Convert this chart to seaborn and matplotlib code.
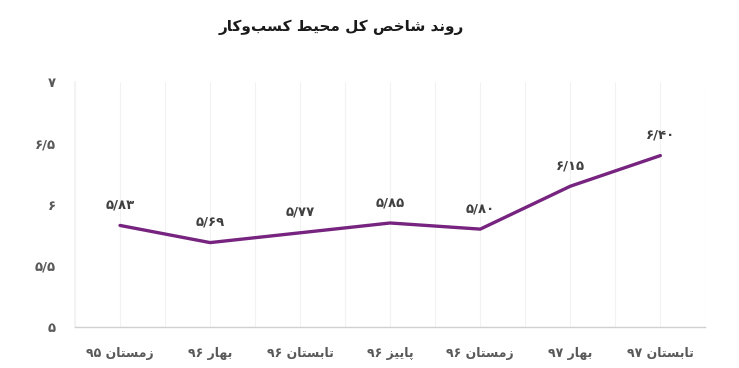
import matplotlib
matplotlib.use("Agg")
import matplotlib.pyplot as plt
import seaborn as sns
import pandas as pd
import numpy as np

# ---- data ----
title = "روند شاخص کل محیط کسب\u200cوکار"
categories = ["زمستان ۹۵", "بهار ۹۶", "تابستان ۹۶", "پاییز ۹۶", "زمستان ۹۶", "بهار ۹۷", "تابستان ۹۷"]
values = [5.83, 5.69, 5.77, 5.85, 5.80, 6.15, 6.40]
value_labels = ["۵/۸۳", "۵/۶۹", "۵/۷۷", "۵/۸۵", "۵/۸۰", "۶/۱۵", "۶/۴۰"]
y_ticks = [5, 5.5, 6, 6.5, 7]
y_tick_labels = ["۵", "۵/۵", "۶", "۶/۵", "۷"]

# ---- minimal Persian shaping (matplotlib has no complex text layout) ----
FORMS = {
    "ا": ("\uFE8D", "\uFE8E", None, None),
    "ب": ("\uFE8F", "\uFE90", "\uFE91", "\uFE92"),
    "پ": ("\uFB56", "\uFB57", "\uFB58", "\uFB59"),
    "ت": ("\uFE95", "\uFE96", "\uFE97", "\uFE98"),
    "ح": ("\uFEA1", "\uFEA2", "\uFEA3", "\uFEA4"),
    "خ": ("\uFEA5", "\uFEA6", "\uFEA7", "\uFEA8"),
    "د": ("\uFEA9", "\uFEAA", None, None),
    "ر": ("\uFEAD", "\uFEAE", None, None),
    "ز": ("\uFEAF", "\uFEB0", None, None),
    "س": ("\uFEB1", "\uFEB2", "\uFEB3", "\uFEB4"),
    "ش": ("\uFEB5", "\uFEB6", "\uFEB7", "\uFEB8"),
    "ص": ("\uFEB9", "\uFEBA", "\uFEBB", "\uFEBC"),
    "ط": ("\uFEC1", "\uFEC2", "\uFEC3", "\uFEC4"),
    "ک": ("\uFB8E", "\uFB8F", "\uFB90", "\uFB91"),
    "ل": ("\uFEDD", "\uFEDE", "\uFEDF", "\uFEE0"),
    "م": ("\uFEE1", "\uFEE2", "\uFEE3", "\uFEE4"),
    "ن": ("\uFEE5", "\uFEE6", "\uFEE7", "\uFEE8"),
    "ه": ("\uFEE9", "\uFEEA", "\uFEEB", "\uFEEC"),
    "و": ("\uFEED", "\uFEEE", None, None),
    "ی": ("\uFBFC", "\uFBFD", "\uFBFE", "\uFBFF"),
}


def dual(c):
    return c in FORMS and FORMS[c][2] is not None


def joins(c):
    return c in FORMS


def shape(text):
    out = []
    n = len(text)
    for i, c in enumerate(text):
        if c == "\u200c":
            continue
        if c not in FORMS:
            out.append(c)
            continue
        prev = text[i - 1] if i > 0 else ""
        nxt = text[i + 1] if i + 1 < n else ""
        cp = dual(prev)
        cn = dual(c) and joins(nxt)
        iso, fin, ini, med = FORMS[c]
        if cp and cn:
            out.append(med)
        elif cp:
            out.append(fin)
        elif cn:
            out.append(ini)
        else:
            out.append(iso)
    # visual reorder: reverse, but keep digit runs left-to-right
    s = "".join(out)
    runs, cur, isdig = [], "", None
    for ch in s:
        d = ch.isdigit() or ch in "/."
        if isdig is None or d == isdig:
            cur += ch
        else:
            runs.append((cur, isdig))
            cur = ch
        isdig = d
    if cur:
        runs.append((cur, isdig))
    res = []
    for r, d in reversed(runs):
        res.append(r if d else r[::-1])
    return "".join(res)


# ---- plot ----
sns.set_theme(style="white")
plt.rcParams["font.family"] = ["DejaVu Sans"]

df = pd.DataFrame({"category": categories, "value": values})

fig = plt.figure(figsize=(7.39, 3.68), dpi=100)
ax = fig.add_axes([0.1015, 0.111, 0.853, 0.666])

line_color = "#76247F"
sns.lineplot(data=df, x="category", y="value", ax=ax, color=line_color,
             linewidth=2.4, sort=False)

ax.set_xlim(-0.5, len(categories) - 0.5)
ax.set_ylim(5, 7)
ax.set_yticks(y_ticks)
ax.set_yticklabels(y_tick_labels, fontweight="bold")
ax.set_xticks(range(len(categories)))
ax.set_xticklabels([shape(c) for c in categories], fontweight="bold")
ax.set_xticks(np.arange(-0.5, len(categories), 1.0), minor=True)

ax.grid(axis="x", which="both", color="#F2F2F2", linewidth=0.8)
ax.grid(axis="y", visible=False)
ax.set_axisbelow(True)

ax.set_xlabel("")
ax.set_ylabel("")
ax.tick_params(axis="x", which="both", length=0, pad=14, labelsize=9,
               labelcolor="#595959")
ax.tick_params(axis="y", length=0, pad=14, labelsize=9.5, labelcolor="#595959")

for side in ["top", "right"]:
    ax.spines[side].set_visible(False)
ax.spines["left"].set_color("#F2F2F2")
ax.spines["bottom"].set_color("#D0D0D0")
ax.spines["bottom"].set_linewidth(1.0)

for i, (v, lab) in enumerate(zip(values, value_labels)):
    ax.annotate(lab, (i, v), xytext=(0, 10), textcoords="offset points",
                ha="center", va="bottom", fontsize=9.5, fontweight="bold",
                color="#404040")

fig.text(0.462, 0.925, shape(title), ha="center", va="center",
         fontsize=11, fontweight="bold", color="#1A1A1A")

fig.savefig("out.png", dpi=100)
